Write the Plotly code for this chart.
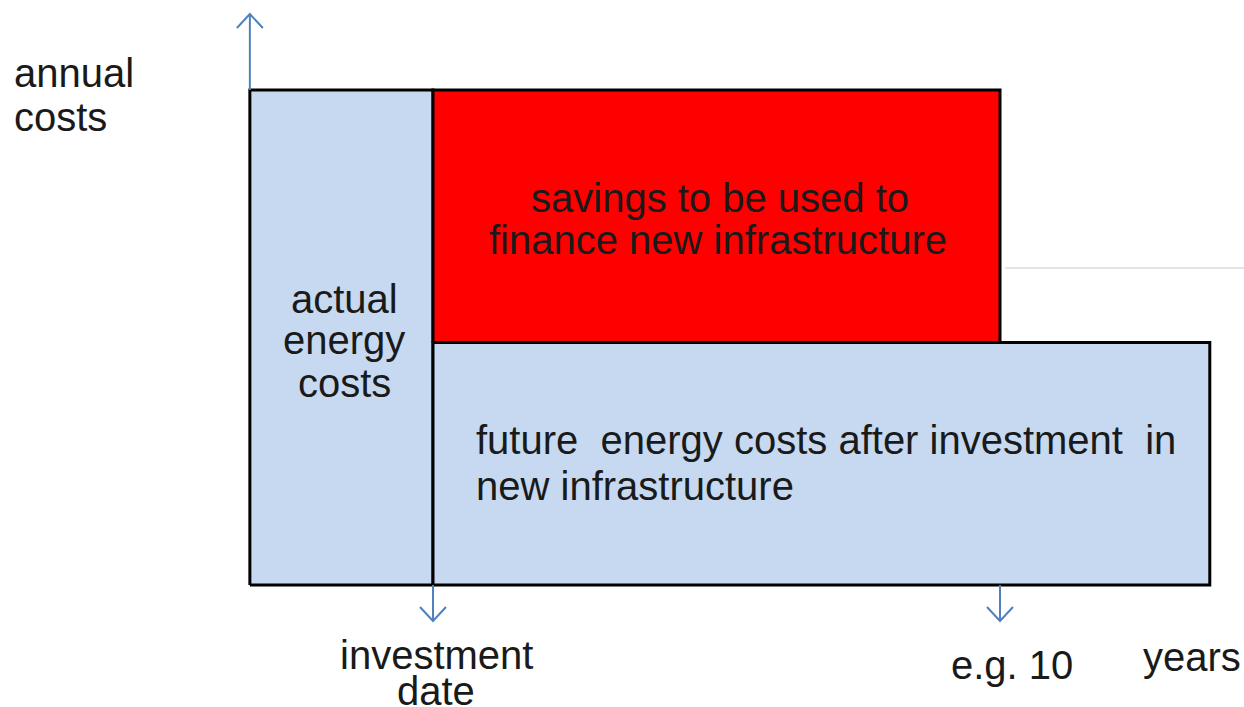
import plotly.graph_objects as go

# ---- data (years relative to investment date, annual cost index) ----
blocks = ["actual energy costs", "savings", "future energy costs"]
period_start = [-3.23, 0.0, 0.0]
period_end = [0.0, 10.0, 13.7]
cost_low = [0.0, 49.0, 0.0]
cost_high = [100.0, 100.0, 49.0]
fills = ["#c6d9f0", "#ff0000", "#c6d9f0"]

# ---- pixel <-> data mapping used only for layout placement ----
PX0, PXU = 433.0, 56.7   # x pixel of t=0, pixels per year
PY0, PYU = 585.0, 4.95   # y pixel of c=0, pixels per unit
W, H = 1244, 707

def X(px):
    return (px - PX0) / PXU

def Y(py):
    return (PY0 - py) / PYU

fig = go.Figure()
for name, x0, x1, y0, y1, fc in zip(blocks, period_start, period_end, cost_low, cost_high, fills):
    fig.add_trace(go.Scatter(
        x=[x0, x1, x1, x0, x0], y=[y0, y0, y1, y1, y0],
        mode="lines", fill="toself", fillcolor=fc,
        line=dict(color="black", width=3), name=name,
        hoverinfo="skip", showlegend=False))

ARROW = "#4f81bd"
shapes = []
# vertical axis arrow (up) at left edge of actual block
ax_x = period_start[0]
top_y = cost_high[0]
tip_up = Y(14)
shapes.append(dict(type="line", x0=ax_x, x1=ax_x, y0=top_y, y1=tip_up,
                   line=dict(color=ARROW, width=2)))
hw, hh = 13 / PXU, 14 / PYU
shapes.append(dict(type="path",
                   path=f"M {ax_x-hw},{tip_up-hh} L {ax_x},{tip_up} L {ax_x+hw},{tip_up-hh}",
                   line=dict(color=ARROW, width=2)))
# down arrows at investment date and e.g. 10 years
for tx in [period_end[0], period_end[1]]:
    tip = Y(621)
    shapes.append(dict(type="line", x0=tx, x1=tx, y0=cost_low[0], y1=tip,
                       line=dict(color=ARROW, width=2)))
    shapes.append(dict(type="path",
                       path=f"M {tx-hw},{tip+hh} L {tx},{tip} L {tx+hw},{tip+hh}",
                       line=dict(color=ARROW, width=2)))
# faint grey line on the right
shapes.append(dict(type="line", x0=X(1005), x1=X(1244), y0=Y(268), y1=Y(268),
                   line=dict(color="#e3e3e3", width=2)))

FONT = dict(family="Liberation Sans, Arial", size=40, color="#1a1a1a")
labels = [
    ("annual", 12, 73, "left"),
    ("costs", 12, 117, "left"),
    ("actual", 344, 299, "center"),
    ("energy", 344, 340, "center"),
    ("costs", 344, 383, "center"),
    ("savings to be used to", 720, 198, "center"),
    ("finance new infrastructure", 718, 240, "center"),
    ("future  energy costs after investment  in", 474, 440, "left"),
    ("new infrastructure", 474, 486, "left"),
    ("investment", 436, 655, "center"),
    ("date", 436, 691, "center"),
    ("e.g. 10", 1012, 665, "center"),
    ("years", 1192, 657, "center"),
]
annotations = [dict(text=t, x=X(px), y=Y(py), xref="x", yref="y",
                    xanchor=anc, yanchor="middle", showarrow=False, font=FONT)
               for t, px, py, anc in labels]

fig.update_layout(
    width=W, height=H, margin=dict(l=0, r=0, t=0, b=0),
    paper_bgcolor="white", plot_bgcolor="white",
    xaxis=dict(range=[X(0), X(W)], visible=False, fixedrange=True),
    yaxis=dict(range=[Y(H), Y(0)], visible=False, fixedrange=True),
    shapes=shapes, annotations=annotations, showlegend=False,
)
fig.write_html("out.html", config={"displayModeBar": False},
               post_script="document.body.style.margin='0px';document.body.style.overflow='hidden';")
